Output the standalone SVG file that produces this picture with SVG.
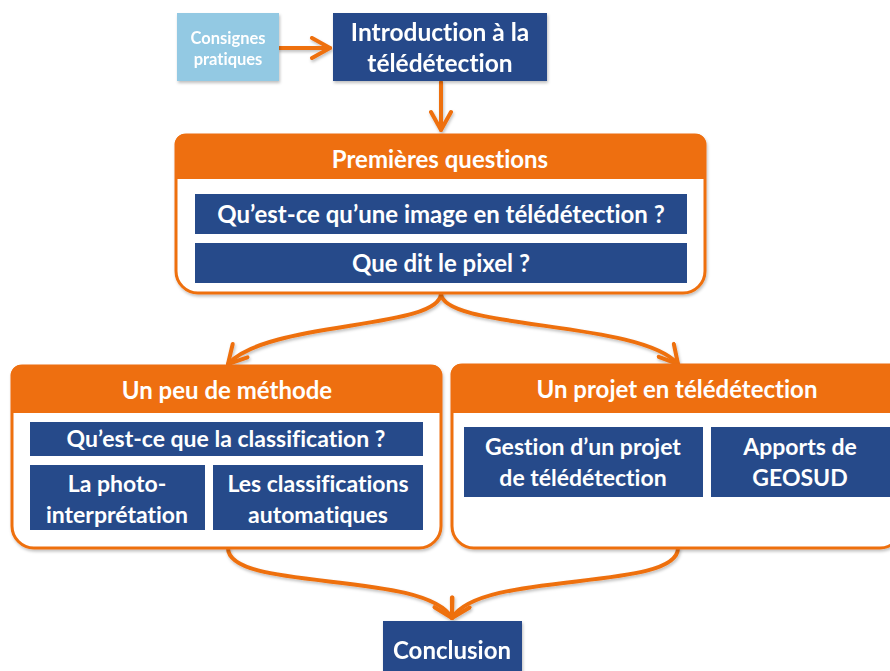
<svg xmlns="http://www.w3.org/2000/svg" width="890" height="671" viewBox="0 0 890 671">
<defs>
<style>
.blue{fill:#264a8a}
.light{fill:#93c9e3}
.hdr{fill:#ee6f10}
.frame{fill:#ffffff;stroke:#ee6f10;stroke-width:3}
.t{font-family:Lato,"Open Sans","Liberation Sans",sans-serif;font-weight:bold;fill:#ffffff;text-anchor:middle;font-variant-ligatures:none;font-feature-settings:"liga" 0}
.conn{fill:none;stroke:#ee6f10;stroke-width:4;stroke-linecap:round}
</style>
<marker id="chev" viewBox="0 0 24 24" refX="21" refY="12" markerWidth="24" markerHeight="24" markerUnits="userSpaceOnUse" orient="auto">
<path d="M3,2 L21,12 L3,22" fill="none" stroke="#ee6f10" stroke-width="4" stroke-linecap="round" stroke-linejoin="round"/>
</marker>
<filter id="sh" x="-10%" y="-10%" width="120%" height="130%">
<feDropShadow dx="1" dy="2" stdDeviation="1.5" flood-color="#000" flood-opacity="0.25"/>
</filter>
</defs>

<g id="connectors" filter="url(#sh)">
<path class="conn" d="M279,48 H330" marker-end="url(#chev)"/>
<path class="conn" d="M441,82 V130" marker-end="url(#chev)"/>
<path class="conn" d="M441,293 C441,330 268,320 228,364" marker-end="url(#chev)"/>
<path class="conn" d="M441,293 C441,330 640,320 678,364" marker-end="url(#chev)"/>
<path class="conn" d="M228,548 C228,592 425,570 452,618" marker-end="url(#chev)"/>
<path class="conn" d="M678,548 C678,592 480,570 452,618" marker-end="url(#chev)"/>
</g>

<g id="consignes" filter="url(#sh)">
<rect class="light" x="177" y="13" width="102" height="68"/>
<text class="t" font-size="16.5" x="228" y="44">Consignes</text>
<text class="t" font-size="16.5" x="228" y="65">pratiques</text>
</g>

<g id="introduction" filter="url(#sh)">
<rect class="blue" x="333" y="13" width="214" height="68"/>
<text class="t" font-size="24.5" x="440" y="41">Introduction à la</text>
<text class="t" font-size="24.5" x="440" y="72">télédétection</text>
</g>

<g id="premieres">
<path class="frame" d="M176,145 A10,10 0 0 1 186,135 H695 A10,10 0 0 1 705,145 V271 A22,22 0 0 1 683,293 H198 A22,22 0 0 1 176,271 Z" filter="url(#sh)"/>
<path class="hdr" d="M175,145 A10,10 0 0 1 185,134 H696 A10,10 0 0 1 706,145 V179 H175 Z"/>
<text class="t" font-size="24" x="440" y="168">Premières questions</text>
<g id="q-image">
<rect class="blue" x="195" y="194" width="492" height="40"/>
<text class="t" font-size="24" x="441" y="223">Qu’est-ce qu’une image en télédétection ?</text>
</g>
<g id="q-pixel">
<rect class="blue" x="195" y="243" width="492" height="40"/>
<text class="t" font-size="24" x="441" y="272">Que dit le pixel ?</text>
</g>
</g>

<g id="methode">
<path class="frame" d="M12,376 A10,10 0 0 1 22,366 H431 A10,10 0 0 1 441,376 V526 A22,22 0 0 1 419,548 H34 A22,22 0 0 1 12,526 Z" filter="url(#sh)"/>
<path class="hdr" d="M11,376 A10,10 0 0 1 21,365 H432 A10,10 0 0 1 442,376 V413 H11 Z"/>
<text class="t" font-size="24" x="227" y="399">Un peu de méthode</text>
<g id="q-classif">
<rect class="blue" x="30" y="422" width="393" height="34"/>
<text class="t" font-size="23" x="226" y="447">Qu’est-ce que la classification ?</text>
</g>
<g id="photo">
<rect class="blue" x="30" y="465" width="175" height="65"/>
<text class="t" font-size="23" x="117" y="492">La photo-</text>
<text class="t" font-size="23" x="117" y="523">interprétation</text>
</g>
<g id="auto">
<rect class="blue" x="213" y="465" width="210" height="65"/>
<text class="t" font-size="23" x="318" y="492">Les classifications</text>
<text class="t" font-size="23" x="318" y="523">automatiques</text>
</g>
</g>

<g id="projet">
<path class="frame" d="M452,375 A10,10 0 0 1 462,365 H892 A10,10 0 0 1 902,375 V526 A22,22 0 0 1 880,548 H474 A22,22 0 0 1 452,526 Z" filter="url(#sh)"/>
<path class="hdr" d="M451,375 A10,10 0 0 1 461,364 H893 A10,10 0 0 1 903,375 V413 H451 Z"/>
<text class="t" font-size="24" x="677" y="398">Un projet en télédétection</text>
<g id="gestion">
<rect class="blue" x="464" y="427" width="239" height="70"/>
<text class="t" font-size="23" x="583" y="455">Gestion d’un projet</text>
<text class="t" font-size="23" x="583" y="486">de télédétection</text>
</g>
<g id="apports">
<rect class="blue" x="711" y="427" width="179" height="70"/>
<text class="t" font-size="23" x="800" y="455">Apports de</text>
<text class="t" font-size="23" x="800" y="486">GEOSUD</text>
</g>
</g>

<g id="conclusion" filter="url(#sh)">
<rect class="blue" x="383" y="621" width="139" height="60"/>
<text class="t" font-size="24" x="452" y="659">Conclusion</text>
</g>
</svg>
